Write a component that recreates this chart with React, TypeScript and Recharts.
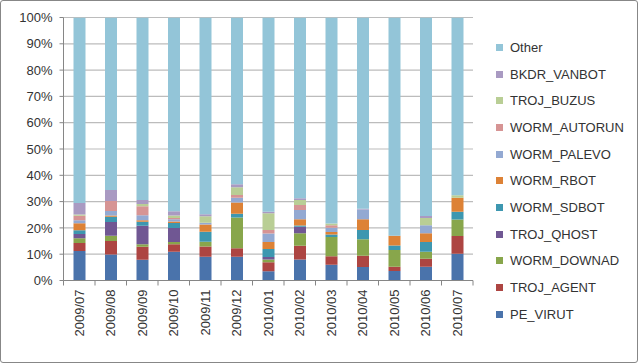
import React from "react";
import { BarChart, Bar, XAxis, YAxis, CartesianGrid } from "recharts";

const categories = ["2009/07", "2009/08", "2009/09", "2009/10", "2009/11", "2009/12", "2010/01", "2010/02", "2010/03", "2010/04", "2010/05", "2010/06", "2010/07"];

const peVirut = [11.2, 9.9, 7.9, 10.9, 9.0, 9.0, 3.5, 8.0, 6.0, 5.1, 3.6, 5.2, 10.2];
const trojAgent = [3.1, 5.1, 4.9, 2.9, 3.9, 3.3, 3.4, 5.2, 3.2, 4.3, 1.6, 3.1, 6.7];
const wormDownad = [1.8, 2.0, 1.0, 0.8, 1.8, 11.7, 1.1, 4.8, 7.3, 6.3, 6.4, 2.6, 6.3];
const trojQhost = [1.6, 5.2, 7.0, 5.4, 0, 0, 0.9, 2.4, 0, 0, 0, 0, 0];
const wormSdbot = [1.4, 2.0, 1.5, 1.9, 3.8, 1.4, 3.1, 0.5, 1.0, 3.5, 1.7, 3.7, 2.9];
const wormRbot = [2.7, 0.5, 0.6, 0.5, 2.8, 4.3, 2.6, 2.4, 0.9, 4.1, 3.7, 3.4, 5.4];
const wormPalevo = [1.1, 1.7, 1.9, 0.9, 0.7, 1.8, 3.3, 3.5, 1.7, 3.7, 0, 3.0, 0];
const wormAutorun = [1.7, 3.8, 3.4, 0.5, 0, 1.0, 1.3, 1.9, 0.9, 0, 0, 0, 0];
const trojBuzus = [0.5, 0, 0.9, 0.9, 2.4, 3.0, 6.4, 1.9, 0.7, 0, 0, 2.8, 0.9];
const bkdrVanbot = [4.4, 4.2, 1.5, 1.6, 0.8, 1.1, 0.5, 0.7, 0, 0.3, 0, 0.7, 0];
const other = [70.5, 65.6, 69.4, 73.7, 74.8, 63.4, 73.9, 68.7, 78.3, 72.7, 83.0, 75.5, 67.6];

const yTicks = [0, 10, 20, 30, 40, 50, 60, 70, 80, 90, 100];

const series = [
  { key: "PE_VIRUT", values: peVirut, color: "#4A73AB" },
  { key: "TROJ_AGENT", values: trojAgent, color: "#AD4542" },
  { key: "WORM_DOWNAD", values: wormDownad, color: "#88A64B" },
  { key: "TROJ_QHOST", values: trojQhost, color: "#705793" },
  { key: "WORM_SDBOT", values: wormSdbot, color: "#3D97B0" },
  { key: "WORM_RBOT", values: wormRbot, color: "#DD8236" },
  { key: "WORM_PALEVO", values: wormPalevo, color: "#93A9D2" },
  { key: "WORM_AUTORUN", values: wormAutorun, color: "#D69494" },
  { key: "TROJ_BUZUS", values: trojBuzus, color: "#B9CE95" },
  { key: "BKDR_VANBOT", values: bkdrVanbot, color: "#A99AC2" },
  { key: "Other", values: other, color: "#93C5D8" },
];

const data = categories.map((c, i) => {
  const row: Record<string, string | number> = { name: c };
  series.forEach((s) => {
    row[s.key] = s.values[i];
  });
  return row;
});

const FONT = "'Liberation Sans', Arial, sans-serif";
const AXIS = "#868686";
const TEXT = "#333333";

const XTick = (props: any) => {
  const { x, y, payload, index, visibleTicksCount } = props;
  const off = payload && typeof payload.offset === "number" ? payload.offset : 0;
  const last = index === (visibleTicksCount ?? categories.length) - 1;
  return (
    <g>
      <line x1={x - off} x2={x - off} y1={y} y2={y + 5} stroke={AXIS} />
      {last && <line x1={x + off} x2={x + off} y1={y} y2={y + 5} stroke={AXIS} />}
      <text
        x={x}
        y={y + 9}
        transform={`rotate(-90, ${x}, ${y + 9})`}
        textAnchor="end"
        dy="0.35em"
        fill={TEXT}
        fontSize={13}
        fontFamily={FONT}
      >
        {payload.value}
      </text>
    </g>
  );
};

export default function App() {
  const legendItems = [...series].reverse();
  return (
    <div
      style={{
        position: "absolute",
        left: 0,
        top: 0,
        width: 638,
        height: 363,
        boxSizing: "border-box",
        border: "1px solid #878787",
        borderRadius: 3,
        background: "#fff",
        overflow: "hidden",
      }}
    >
      <div style={{ position: "absolute", left: -1, top: -1 }}>
        <BarChart
          width={638}
          height={363}
          data={data}
          margin={{ top: 17.5, right: 165, bottom: 22.5, left: 0 }}
          barSize={12}
        >
          <CartesianGrid vertical={false} stroke="#BCBCBC" strokeWidth={1.2} />
          <XAxis
            dataKey="name"
            interval={0}
            tickSize={0}
            tickMargin={0}
            tickLine={false}
            axisLine={{ stroke: AXIS }}
            height={60}
            tick={<XTick />}
          />
          <YAxis
            width={63.5}
            domain={[0, 100]}
            ticks={yTicks}
            interval={0}
            allowDataOverflow
            tickFormatter={(v: number) => `${v}%`}
            tickSize={4}
            tickMargin={7}
            tickLine={{ stroke: AXIS }}
            axisLine={{ stroke: AXIS }}
            tick={{ fill: TEXT, fontSize: 13, fontFamily: FONT }}
          />
          {series.map((s) => (
            <Bar key={s.key} dataKey={s.key} stackId="a" fill={s.color} isAnimationActive={false} />
          ))}
        </BarChart>
      </div>
      <div style={{ position: "absolute", left: 495, top: 33 }}>
        {legendItems.map((s) => (
          <div
            key={s.key}
            style={{
              height: 26.7,
              display: "flex",
              alignItems: "center",
              fontFamily: FONT,
              fontSize: 13,
              color: TEXT,
              whiteSpace: "nowrap",
            }}
          >
            <span style={{ display: "inline-block", width: 7, height: 7, background: s.color, marginRight: 7 }} />
            <span>{s.key}</span>
          </div>
        ))}
      </div>
    </div>
  );
}
